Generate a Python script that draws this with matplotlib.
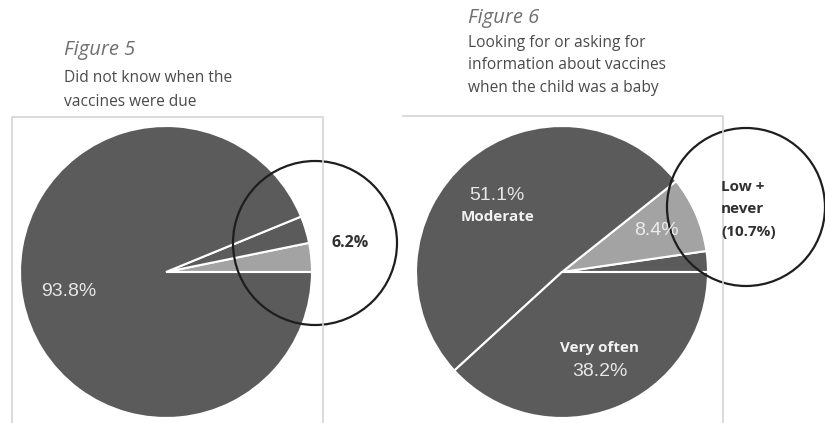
import matplotlib.pyplot as plt
from matplotlib.patches import Circle

# figure 5: did not know when vaccines were due
fig5_vals = [3.2, 3.0, 93.8]
fig5_cols = ['#a3a3a3', '#5b5b5b', '#5b5b5b']

# figure 6: looking for / asking for information
fig6_vals = [2.3, 8.4, 51.1, 38.2]
fig6_cols = ['#5b5b5b', '#a3a3a3', '#5b5b5b', '#5b5b5b']

W, H = 825, 423

fig = plt.figure(figsize=(W / 100, H / 100), dpi=100)
ax = fig.add_axes([0, 0, 1, 1])

def py(y):
    # pixel row (from top) -> data y
    return H - y

wp = dict(edgecolor='white', linewidth=1.5)
ax.pie(fig5_vals, colors=fig5_cols, startangle=0, counterclock=True,
       center=(166, py(272)), radius=146, wedgeprops=wp)
ax.pie(fig6_vals, colors=fig6_cols, startangle=0, counterclock=True,
       center=(562, py(272)), radius=146, wedgeprops=wp)

ax.set_xlim(0, W)
ax.set_ylim(0, H)
ax.set_aspect('equal')
ax.axis('off')

# chart frames
fc = '#d4d4d4'
ax.plot([12, 12, 323, 323], [0, py(117), py(117), 0], color=fc, lw=1.2)
ax.plot([403, 723, 723], [py(116), py(116), 0], color=fc, lw=1.2)

# highlight circles
ax.add_patch(Circle((315, py(243)), 82, fill=False, edgecolor='#1e1e1e', lw=1.6))
ax.add_patch(Circle((746, py(207)), 79, fill=False, edgecolor='#1e1e1e', lw=1.6))

# titles
tf = 'Open Sans'
st = 11.2
ax.text(64, py(50), 'Figure 5', fontsize=14.5, style='italic', color='#707070',
        family=tf, va='center')
ax.text(64, py(78), 'Did not know when the', fontsize=st, color='#4a4a4a',
        family=tf, va='center')
ax.text(64, py(102), 'vaccines were due', fontsize=st, color='#4a4a4a',
        family=tf, va='center')

ax.text(468, py(18), 'Figure 6', fontsize=14.5, style='italic', color='#707070',
        family=tf, va='center')
ax.text(468, py(43), 'Looking for or asking for', fontsize=st, color='#4a4a4a',
        family=tf, va='center')
ax.text(468, py(65), 'information about vaccines', fontsize=st, color='#4a4a4a',
        family=tf, va='center')
ax.text(468, py(88), 'when the child was a baby', fontsize=st, color='#4a4a4a',
        family=tf, va='center')

# slice labels
lf = 'Liberation Sans'
ax.text(69, py(292), '93.8%', fontsize=14, color='#e6e6e6', family=lf,
        ha='center', va='center')
ax.text(350, py(243), '6.2%', fontsize=11.5, color='#303030', family=tf,
        weight='bold', ha='center', va='center')

ax.text(497, py(195), '51.1%', fontsize=14, color='#e6e6e6', family=lf,
        ha='center', va='center')
ax.text(497, py(217), 'Moderate', fontsize=11, color='#f2f2f2', family=tf,
        weight='bold', ha='center', va='center')
ax.text(656, py(230), '8.4%', fontsize=14, color='#ececec', family=lf,
        ha='center', va='center')
ax.text(600, py(348), 'Very often', fontsize=11, color='#f2f2f2', family=tf,
        weight='bold', ha='center', va='center')
ax.text(600, py(372), '38.2%', fontsize=14, color='#e6e6e6', family=lf,
        ha='center', va='center')

ax.text(721, py(187), 'Low +', fontsize=11, color='#303030', family=tf,
        weight='bold', va='center')
ax.text(721, py(209), 'never', fontsize=11, color='#303030', family=tf,
        weight='bold', va='center')
ax.text(721, py(232), '(10.7%)', fontsize=11, color='#303030', family=tf,
        weight='bold', va='center')

fig.savefig('out.png', dpi=100)
